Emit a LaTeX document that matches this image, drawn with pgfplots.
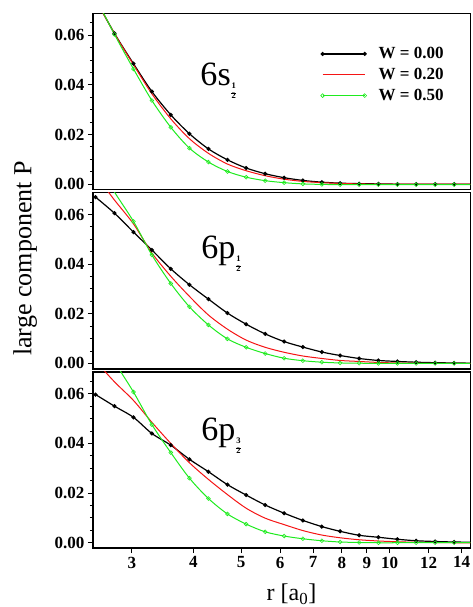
\documentclass[border=0pt]{standalone}
\usepackage{fontspec}
\setmainfont{Liberation Serif}
\usepackage{pgfplots}
\usepackage{pgfplotstable}
\pgfplotsset{compat=1.18}
\usepgfplotslibrary{groupplots}
\usetikzlibrary{calc}
\definecolor{mygreen}{RGB}{30,235,30}
\definecolor{myred}{RGB}{245,20,20}
\newcommand{\fracsub}[2]{\raisebox{-8pt}{\fontsize{8.5}{8.5}\selectfont\bfseries\begin{tabular}{@{}c@{}}#1\\[-3.5pt]\rule{5pt}{0.7pt}\\[-3.5pt]#2\end{tabular}}}

\pgfplotstableread{
x b r g
2.531 0.0745 0.0745 0.0752
2.766 0.0607 0.0606 0.0603
3.023 0.0485 0.0481 0.0464
3.294 0.0373 0.0364 0.0337
3.599 0.0279 0.0263 0.0229
3.927 0.0203 0.0183 0.0145
4.291 0.0142 0.0124 0.0089
4.689 0.0098 0.0081 0.0051
5.118 0.0065 0.0054 0.0028
5.593 0.0042 0.0034 0.0014
6.112 0.0026 0.0020 0.0006
6.670 0.0015 0.0011 0.0001
7.290 0.0008 0.0006 -0.0001
7.940 0.0004 0.0003 -0.0002
8.677 0.0002 0.0001 -0.0002
9.496 0.0001 0.0000 -0.0002
10.378 0.0000 0.0000 -0.0002
11.326 0.0000 0.0000 -0.0002
12.378 0.0000 0.0000 -0.0002
13.527 0.0000 0.0000 -0.0002
14.800 0.0000 0.0000 -0.0002
}\dataS

\pgfplotstableread{
x b r g
2.531 0.0670 0.0760 0.0815
2.766 0.0605 0.0658 0.0690
3.023 0.0529 0.0562 0.0572
3.294 0.0457 0.0445 0.0437
3.599 0.0381 0.0351 0.0322
3.927 0.0317 0.0270 0.0228
4.291 0.0259 0.0195 0.0155
4.689 0.0203 0.0138 0.0099
5.118 0.0158 0.0094 0.0065
5.593 0.0119 0.0065 0.0040
6.112 0.0088 0.0045 0.0021
6.670 0.0066 0.0030 0.0011
7.290 0.0046 0.0020 0.0005
7.940 0.0032 0.0012 0.0002
8.677 0.0020 0.0008 0.0001
9.496 0.0012 0.0004 0.0000
10.378 0.0008 0.0002 0.0000
11.326 0.0005 0.0001 0.0000
12.378 0.0003 0.0000 0.0000
13.527 0.0002 0.0000 0.0000
14.800 0.0001 0.0000 0.0000
}\dataPa

\pgfplotstableread{
x b r g
2.531 0.0597 0.0732 0.0870
2.766 0.0550 0.0648 0.0730
3.023 0.0505 0.0573 0.0607
3.294 0.0440 0.0485 0.0476
3.599 0.0393 0.0400 0.0363
3.927 0.0336 0.0322 0.0260
4.291 0.0286 0.0255 0.0178
4.689 0.0234 0.0194 0.0116
5.118 0.0192 0.0139 0.0075
5.593 0.0152 0.0099 0.0044
6.112 0.0119 0.0073 0.0027
6.670 0.0090 0.0049 0.0016
7.290 0.0065 0.0031 0.0008
7.940 0.0046 0.0020 0.0003
8.677 0.0030 0.0012 0.0001
9.496 0.0022 0.0007 0.0000
10.378 0.0014 0.0004 0.0000
11.326 0.0008 0.0002 0.0000
12.378 0.0005 0.0001 0.0000
13.527 0.0003 0.0000 0.0000
14.800 0.0002 0.0000 0.0000
}\dataPb

\pgfplotsset{
  blk/.style={black, line width=1.2pt, smooth, mark=*, mark size=1.4pt, mark options={solid, fill=black}},
  rd/.style={color=myred, line width=1pt, smooth,
    legend image code/.code={\draw[myred, line width=1.2pt] (0pt,0pt) -- (42pt,0pt);}},
  gr/.style={color=mygreen, line width=1pt, smooth, mark=o, mark size=1.9pt, mark options={solid, line width=0.6pt}},
}

\begin{document}
\begin{tikzpicture}
\begin{groupplot}[
  group style={group size=1 by 3, vertical sep=3pt},
  width=377pt, height=176pt, scale only axis,
  xmode=log, xmin=2.5, xmax=14.6,
  ymin=-0.0022, ymax=0.0688,
  xtick={3,4,5,6,7,8,9,10,12,14},
  xticklabels={3,4,5,6,7,8,9,10,12,14},
  minor xtick={},
  ytick={0,0.02,0.04,0.06},
  minor ytick={0.005,0.01,0.015,0.025,0.03,0.035,0.045,0.05,0.055,0.065},
  scaled y ticks=false,
  xtick pos=bottom, ytick pos=left,
  tick align=outside,
  major tick length=5pt, minor tick length=3pt,
  every tick/.style={black, line width=1pt},
  axis line style={line width=1.5pt},
  yticklabel style={/pgf/number format/fixed, /pgf/number format/fixed zerofill, /pgf/number format/precision=2},
  /pgf/number format/assume math mode=true,
  tick label style={font=\bfseries\fontsize{17}{19}\selectfont},
  legend image code/.code={\draw[#1] plot coordinates {(0pt,0pt) (42pt,0pt)};},
]
\nextgroupplot[xmajorticks=false,
  legend cell align=left,
  legend style={draw=none, fill=none, at={(axis description cs:0.595,0.83)}, anchor=north west,
    font=\bfseries\fontsize{17}{19}\selectfont, row sep=4pt,
    nodes={inner sep=2pt},
    /tikz/every odd column/.append style={column sep=10pt}}]
\addplot[blk] table[x=x,y=b]{\dataS};
\addlegendentry{W = 0.00}
\addplot[rd] table[x=x,y=r]{\dataS};
\addlegendentry{W = 0.20}
\addplot[gr] table[x=x,y=g]{\dataS};
\addlegendentry{W = 0.50}
\node[anchor=base west, inner sep=0, font=\fontsize{34}{40}\selectfont] at (axis cs:4.13,0.0397)
  {6s\kern0.5pt\fracsub{1}{2}};
\coordinate (TL) at (rel axis cs:0,1);

\nextgroupplot[xmajorticks=false]
\addplot[blk] table[x=x,y=b]{\dataPa};
\addplot[rd] table[x=x,y=r]{\dataPa};
\addplot[gr] table[x=x,y=g]{\dataPa};
\node[anchor=base west, inner sep=0, font=\fontsize{34}{40}\selectfont] at (axis cs:4.147,0.0421)
  {6p\kern0.5pt\fracsub{1}{2}};

\nextgroupplot
\addplot[blk] table[x=x,y=b]{\dataPb};
\addplot[rd] table[x=x,y=r]{\dataPb};
\addplot[gr] table[x=x,y=g]{\dataPb};
\node[anchor=base west, inner sep=0, font=\fontsize{34}{40}\selectfont] at (axis cs:4.147,0.0411)
  {6p\kern0.5pt\fracsub{3}{2}};
\coordinate (BR) at (rel axis cs:1,0);
\coordinate (BL) at (rel axis cs:0,0);
\end{groupplot}
\node[rotate=90, anchor=center, font=\fontsize{26}{30}\selectfont] at ($(TL)+(-67.7pt,-244.7pt)$) {large component P};
\node[anchor=base, font=\fontsize{24}{28}\selectfont] at ($(BL)+(198.3pt,-52.5pt)$) {r [a\textsubscript{0}]};
\pgfresetboundingbox
\path[use as bounding box] ($(TL)+(-92.7pt,13.3pt)$) rectangle ($(BR)+(2pt,-58.7pt)$);
\end{tikzpicture}
\end{document}
